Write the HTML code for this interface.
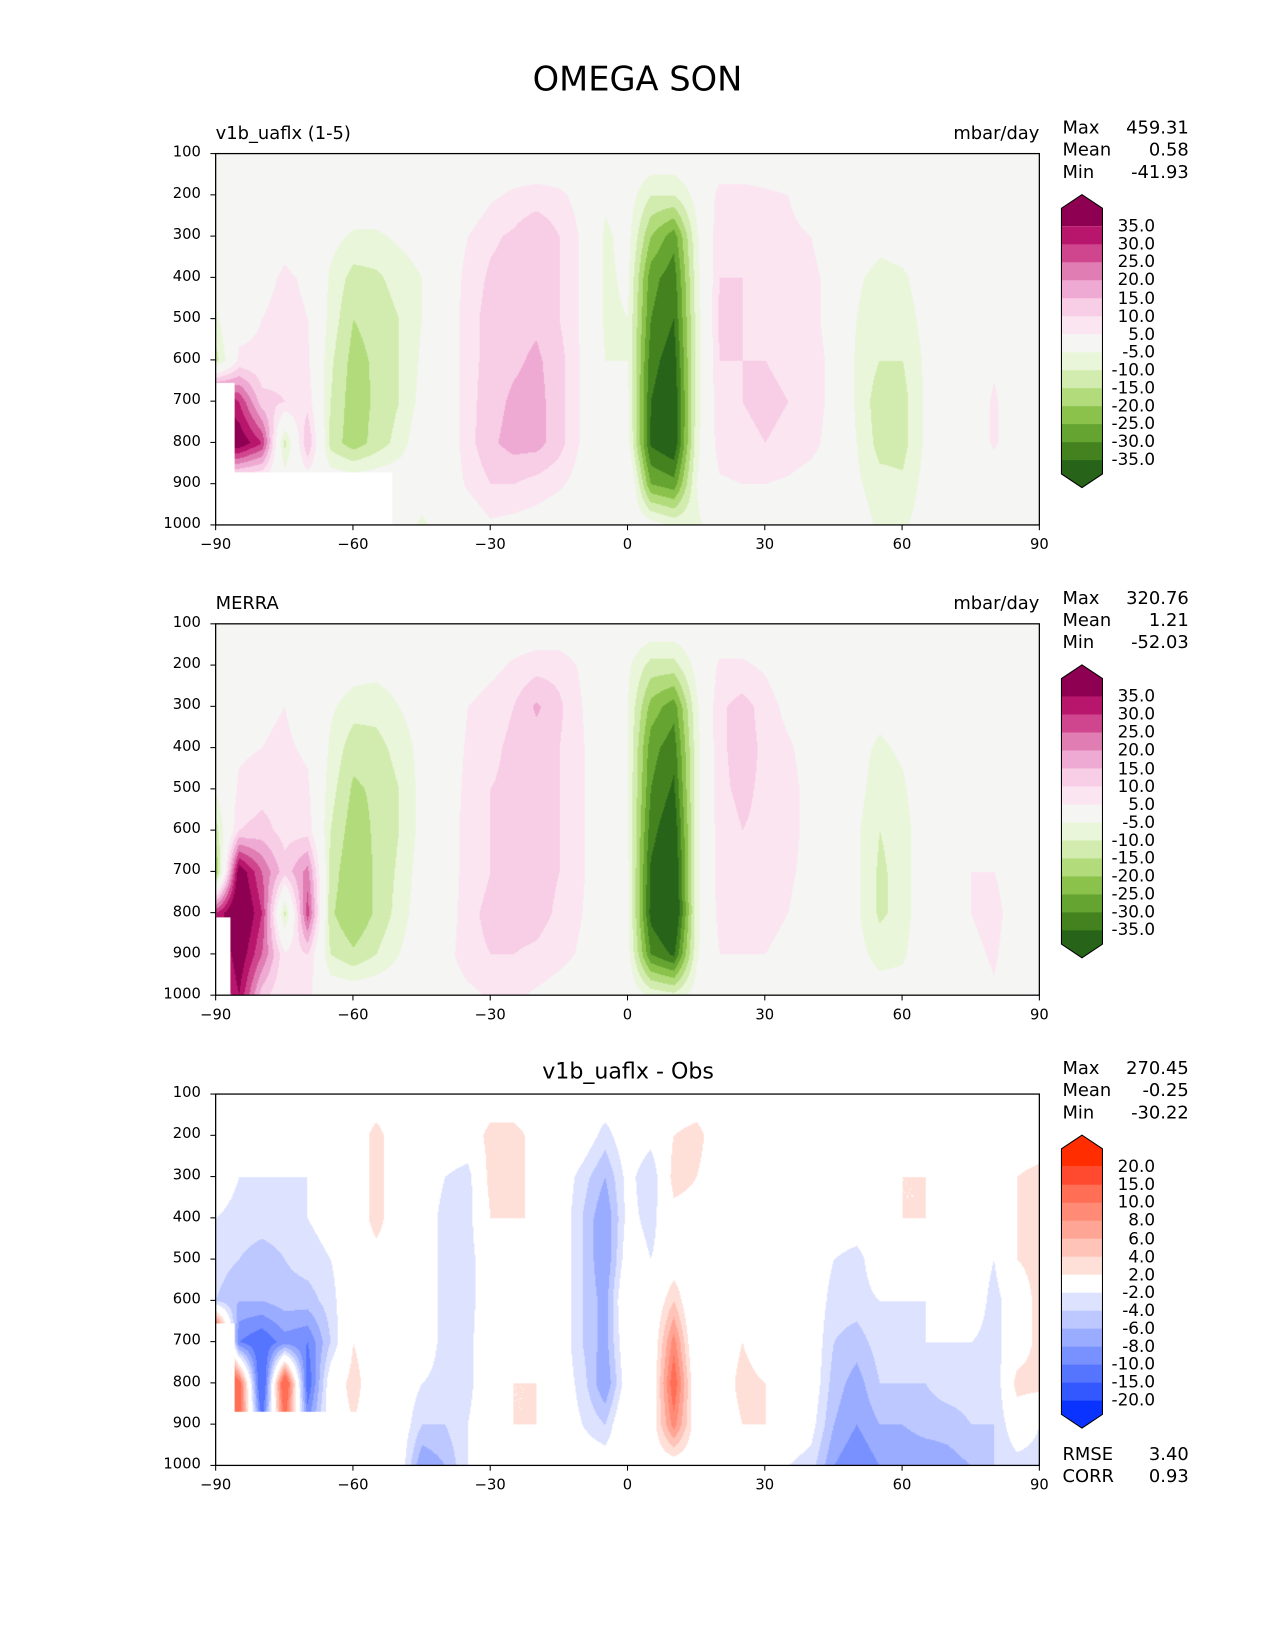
<!DOCTYPE html>
<html><head><meta charset="utf-8">
<style>
body{margin:0;background:#fff;font-family:"DejaVu Sans","Liberation Sans",sans-serif;}
#outer{position:relative;width:1275px;height:1650px;overflow:hidden;background:#fff;}
#root{position:absolute;left:0;top:0;width:1212px;height:1568px;transform:scale(1.05198);transform-origin:0 0;background:#fff;}
.t{position:absolute;white-space:nowrap;color:#000;}
canvas{position:absolute;}
</style></head>
<body><div id="outer"><div id="root">
<div class="t" style="left:0;width:1212px;top:56px;text-align:center;font-size:32px;">OMEGA SON</div>
</div></div>
<script>
// ---- data ----
const lats=[-90,-85,-80,-75,-70,-65,-60,-55,-50,-45,-40,-35,-30,-25,-20,-15,-10,-5,0,5,10,15,20,25,30,35,40,45,50,55,60,65,70,75,80,85,90];
const levels=[100,200,300,400,500,600,700,800,900,1000];
const xTicks=[-90,-60,-30,0,30,60,90];
const xTickLabels=["\u221290","\u221260","\u221230","0","30","60","90"];
const yTicks=[100,200,300,400,500,600,700,800,900,1000];
const piygBounds=[35,30,25,20,15,10,5,-5,-10,-15,-20,-25,-30,-35];
const diffBounds=[20,15,10,8,6,4,2,-2,-4,-6,-8,-10,-15,-20];
const piygColors=['#8e0152','#b8166c','#d0468e','#e07db2','#efaad3','#f8cde6','#fbe5f1','#f5f5f4','#eaf6da','#d2ecb0','#b2dc7c','#8bc24c','#65a431','#44821f','#276419'];
const diffColors=['#ff2d00','#ff4a30','#ff6e55','#ff8a75','#ffa595','#ffc3b8','#ffe0d9','#ffffff','#dde3ff','#bcc8ff','#9aacff','#7891ff','#5675ff','#3358ff','#0a33ff'];
const model=[
[0,0,0,0,0,0,0,0,0,0,0,0,0,0,0,0,0,0,0,0,0,0,0,0,0,0,0,0,0,0,0,0,0,0,0,0,0],
[0,0,0,0,0,0,0,0,0,0,0,0,4,6,7,6,3,-4,-2,-10,-10,-3,7,7,6,5,0,0,0,0,0,0,0,0,0,0,0],
[0,0,0,3,0,-3,-6,-6,-4,-2,0,5,9,11,15,10,4,-6,-3,-20,-28,-6,9,9,8,7,5,0,0,-3,-2,0,0,0,0,0,0],
[-2,3,3,6,4,-6,-12,-11,-8,-5,0,7,11,12,13,10,4,-6,-4,-28,-33,-7,10,10,9,8,7,2,-4,-7,-6,-2,0,0,0,0,0],
[-6,3,5,7,5,-7,-15,-13,-10,-5,0,8,12,13,14,10,4,-6,-5,-30,-35,-8,11,10,9,8,7,2,-5,-9,-8,-3,0,0,2,0,0],
[-12,6,6,8,6,-9,-17,-14,-10,-4,0,8,12,14,16,12,4,-5,-5,-33,-38,-8,10,10,10,9,8,3,-6,-10,-10,-4,0,0,4,0,0],
[40,30,12,10,8,-10,-18,-14,-10,-3,0,8,13,16,17,12,4,-3,-4,-35,-40,-8,9,10,11,10,8,3,-6,-13,-12,-4,0,0,6,0,0],
[40,40,30,-12,15,-12,-18,-13,-8,0,0,8,14,17,17,12,4,-3,-3,-36,-40,-7,8,9,10,9,7,2,-5,-12,-12,-4,0,0,6,0,0],
[0,0,0,0,0,0,0,0,0,-2,0,6,10,10,8,6,2,-2,4,-25,-28,-5,4,5,5,4,2,0,-4,-8,-9,-3,0,0,0,0,0],
[0,0,0,0,0,0,0,0,-2,-6,-2,0,4,3,2,0,0,0,0,-2,-6,-6,-2,0,0,0,0,0,-2,-6,-6,-2,0,0,0,0,0]];
const obs=[
[0,0,0,0,0,0,0,0,0,0,0,0,0,0,0,0,0,0,0,0,0,0,0,0,0,0,0,0,0,0,0,0,0,0,0,0,0],
[0,0,0,0,0,0,-2,-3,-2,0,0,0,3,6,8,8,4,-3,-4,-12,-12,-3,6,6,4,0,0,0,0,0,0,0,0,0,0,0,0],
[0,2,4,5,2,-4,-8,-8,-5,-2,0,5,8,10,16,11,5,-4,-5,-22,-28,-6,9,12,8,3,0,0,-2,-3,-2,0,0,0,0,0,0],
[0,4,5,6,4,-6,-13,-12,-8,-3,0,6,9,11,12,10,6,-4,-5,-28,-33,-7,9,12,9,6,2,0,-3,-6,-4,0,0,2,0,0,0],
[-4,6,8,8,6,-8,-16,-14,-10,-3,0,7,10,11,12,10,6,-4,-5,-30,-36,-7,9,11,9,7,3,0,-3,-8,-6,0,0,4,0,0,0],
[-12,10,12,8,8,-10,-18,-14,-10,-3,0,8,10,12,12,10,6,-3,-5,-33,-40,-7,8,10,9,7,3,0,-4,-10,-8,0,0,4,0,0,0],
[-20,40,25,12,22,-12,-20,-14,-9,-2,0,8,10,12,12,10,6,-2,-4,-36,-42,-7,8,9,8,6,3,0,-4,-11,-8,0,2,5,5,0,0],
[30,45,30,-12,28,-14,-20,-14,-8,-1,0,9,11,12,12,9,5,-2,-4,-37,-44,-7,7,8,7,5,2,0,-4,-11,-8,0,2,5,8,0,0],
[25,40,25,6,10,-10,-14,-10,-5,0,2,9,10,10,9,7,4,-2,-3,-30,-36,-6,5,5,5,3,1,0,-3,-7,-6,0,2,3,6,0,0],
[20,35,12,5,6,0,0,0,0,0,0,3,6,6,4,2,0,0,0,-6,-8,-2,0,0,2,2,0,0,0,-2,-2,0,3,2,4,0,0]];
const diff=[
[0,0,0,0,0,0,0,0,0,0,0,0,0,0,0,0,0,0,0,0,0,0,0,0,0,0,0,0,0,0,0,0,0,0,0,0,0],
[0,0,-1,-2,-1,0,0,3,0,0,0,0,3,3,1,0,0,-3,0,-1,2,3,0,0,0,0,0,0,0,0,0,0,0,0,0,0,0],
[0,-2,-2,-2,-2,0,0,3,0,0,-2,-3,3,3,1,0,-3,-6,-1,-4,3,2,0,0,0,0,0,0,0,0,2,2,0,0,0,2,3],
[-2,-3,-3,-3,-2,-1,0,3,0,0,-3,-3,2,2,2,0,-4,-8,-1,-3,1,1,0,0,0,0,0,0,0,0,2,2,0,0,0,2,3],
[-3,-4,-5,-4,-3,-2,0,1,0,0,-3,-3,0,0,1,0,-4,-8,0,-2,0,0,0,0,0,0,0,-2,-3,0,2,0,0,0,-2,2,3],
[-4,-6,-6,-5,-5,-3,1,0,0,0,-3,-3,0,0,0,0,-4,-7,2,-1,4,-2,0,0,0,0,0,-3,-3,-2,-2,-2,-2,0,-3,0,3],
[20,-10,-12,-9,-10,-4,2,0,0,0,-3,-3,1,2,0,0,-4,-7,1,-1,9,-2,0,2,0,2,0,-4,-5,-3,-3,-2,-2,-2,-3,0,3],
[20,12,-15,15,-12,0,3,0,0,-2,-3,-3,1,2,2,0,-3,-8,0,-1,12,-1,0,3,2,2,0,-5,-7,-4,-4,-4,-3,-3,-4,3,3],
[20,12,-10,10,-8,0,2,0,0,-4,-4,-2,1,2,2,0,-2,-4,2,0,9,0,0,2,2,0,-1,-6,-8,-6,-6,-5,-5,-4,-4,0,-2],
[0,0,0,0,0,0,0,0,0,-8,-6,-2,0,2,0,0,0,0,0,0,0,0,0,0,0,-2,-3,-8,-10,-8,-8,-8,-7,-6,-4,-3,-3]];

// ---- layout ----
const root=document.getElementById('root');
const AX={x0:205,x1:988,h:353};
function xs(lat){return AX.x0+(lat+90)/180*(AX.x1-AX.x0);}
function ys(p,top){return top+(p-100)/900*AX.h;}
function colorIdx(v,bounds){for(let i=0;i<bounds.length;i++){if(v>=bounds[i]) return i;}return bounds.length;}
function hex(c){return [parseInt(c.substr(1,2),16),parseInt(c.substr(3,2),16),parseInt(c.substr(5,2),16)];}
function txt(name,s,left,top,size,align,w){
  const d=document.createElement('div');d.className='t';
  
  
  d.textContent=s;d.style.fontSize=size+'px';d.style.top=top+'px';
  if(align==='right'){d.style.left=(left-(w||200))+'px';d.style.width=(w||200)+'px';d.style.textAlign='right';}
  else if(align==='center'){d.style.left=(left-200)+'px';d.style.width='400px';d.style.textAlign='center';}
  else d.style.left=left+'px';
  root.appendChild(d);return d;
}
function sample(grid,lat,p){
  let fi=(lat+90)/5, fj=(p-100)/100;
  let i=Math.min(Math.floor(fi),35), j=Math.min(Math.floor(fj),8);
  let a=fi-i,b=fj-j;
  return grid[j][i]*(1-a)*(1-b)+grid[j][i+1]*a*(1-b)+grid[j+1][i]*(1-a)*b+grid[j+1][i+1]*a*b;
}
function panel(top,grid,bounds,colors,masks,name){
  const cv=document.createElement('canvas');
  
  
  const W=AX.x1-AX.x0,H=AX.h;cv.width=W;cv.height=H;cv.style.left=AX.x0+'px';cv.style.top=top+'px';
  const ctx=cv.getContext('2d');const img=ctx.createImageData(W,H);
  const rgb=colors.map(hex);
  for(let y=0;y<H;y++){const p=100+y/H*900;
    for(let x=0;x<W;x++){const lat=-90+x/W*180;
      let c=rgb[colorIdx(sample(grid,lat,p),bounds)];
      for(const m of masks){if(lat<m[0]&&p>m[1]) c=[255,255,255];}
      const k=(y*W+x)*4;img.data[k]=c[0];img.data[k+1]=c[1];img.data[k+2]=c[2];img.data[k+3]=255;}}
  ctx.putImageData(img,0,0);root.appendChild(cv);
  const ns='http://www.w3.org/2000/svg';
  const svg=document.createElementNS(ns,'svg');
  
  
  svg.setAttribute('width',1212);svg.setAttribute('height',1568);
  svg.style.position='absolute';svg.style.left='0';svg.style.top='0';
  const r=document.createElementNS(ns,'rect');
  
  
  r.setAttribute('x',AX.x0);r.setAttribute('y',top);r.setAttribute('width',AX.x1-AX.x0);r.setAttribute('height',H);
  r.setAttribute('fill','none');r.setAttribute('stroke','#000');r.setAttribute('stroke-width','1.2');svg.appendChild(r);
  xTicks.forEach((t,i)=>{const l=document.createElementNS(ns,'line');
    
    
    l.setAttribute('x1',xs(t));l.setAttribute('x2',xs(t));l.setAttribute('y1',top+H);l.setAttribute('y2',top+H+5);l.setAttribute('stroke','#000');svg.appendChild(l);
    txt('x-tick-label',xTickLabels[i],xs(t),top+H+11,14,'center');});
  yTicks.forEach(t=>{const l=document.createElementNS(ns,'line');
    
    
    l.setAttribute('x1',AX.x0-5);l.setAttribute('x2',AX.x0);l.setAttribute('y1',ys(t,top));l.setAttribute('y2',ys(t,top));l.setAttribute('stroke','#000');svg.appendChild(l);
    txt('y-tick-label',String(t),191,ys(t,top)-9,14,'right',60);});
  root.appendChild(svg);
}
function colorbar(top,bounds,colors,name){
  const ns='http://www.w3.org/2000/svg';
  const svg=document.createElementNS(ns,'svg');
  
  
  svg.setAttribute('width',60);svg.setAttribute('height',320);
  const y0=20;
  svg.style.position='absolute';svg.style.left='1000px';svg.style.top=(top-y0)+'px';
  const x0=9,x1=48,seg=17.1;
  const n=colors.length;
  for(let i=0;i<n;i++){let el;
    if(i===0){el=document.createElementNS(ns,'polygon');el.setAttribute('points',`${x0},${y0+seg} ${x0},${y0} ${(x0+x1)/2},${y0-13} ${x1},${y0} ${x1},${y0+seg}`);}
    else if(i===n-1){const yb=y0+seg*(n-1);el=document.createElementNS(ns,'polygon');el.setAttribute('points',`${x0},${yb} ${x0},${yb+seg-4} ${(x0+x1)/2},${yb+seg+9} ${x1},${yb+seg-4} ${x1},${yb}`);}
    else{el=document.createElementNS(ns,'rect');el.setAttribute('x',x0);el.setAttribute('y',y0+seg*i);el.setAttribute('width',x1-x0);el.setAttribute('height',seg+0.5);}
    
    
    el.setAttribute('fill',colors[i]);svg.appendChild(el);}
  const yb=y0+seg*(n-1);
  const o=document.createElementNS(ns,'polygon');
  
  
  o.setAttribute('points',`${x0},${y0} ${(x0+x1)/2},${y0-13} ${x1},${y0} ${x1},${yb+seg-4} ${(x0+x1)/2},${yb+seg+9} ${x0},${yb+seg-4}`);
  o.setAttribute('fill','none');o.setAttribute('stroke','#000');o.setAttribute('stroke-width','1');svg.appendChild(o);
  root.appendChild(svg);
  bounds.forEach((b,i)=>{txt('colorbar-label',b.toFixed(1),1098,top+seg*(i+1)-10,16,'right',60);});
}
function stats(top,vals){
  const names=['Max','Mean','Min'];
  names.forEach((n,i)=>{txt('stat-'+n.toLowerCase()+'-label',n,1010,top+i*21,17);txt('stat-'+n.toLowerCase()+'-value',vals[i],1130,top+i*21,17,'right',100);});
}
panel(146,model,piygBounds,piygColors,[[-51.5,870],[-86,655]],'model-panel');
txt('model-panel-title','v1b_uaflx (1-5)',205,117,17);
txt('model-panel-units','mbar/day',988,117,17,'right',150);
stats(112,['459.31','0.58','-41.93']);
colorbar(198,piygBounds,piygColors,'model-colorbar');
panel(593,obs,piygBounds,piygColors,[[-87,810]],'obs-panel');
txt('obs-panel-title','MERRA',205,564,17);
txt('obs-panel-units','mbar/day',988,564,17,'right',150);
stats(559,['320.76','1.21','-52.03']);
colorbar(645,piygBounds,piygColors,'obs-colorbar');
panel(1040,diff,diffBounds,diffColors,[[-54.8,868],[-86,655]],'diff-panel');
txt('diff-panel-title','v1b_uaflx - Obs',597,1006,21,'center');
stats(1006,['270.45','-0.25','-30.22']);
colorbar(1092,diffBounds,diffColors,'diff-colorbar');
txt('rmse-label','RMSE',1010,1373,17);txt('rmse-value','3.40',1130,1373,17,'right',100);
txt('corr-label','CORR',1010,1394,17);txt('corr-value','0.93',1130,1394,17,'right',100);
</script>
</body></html>
